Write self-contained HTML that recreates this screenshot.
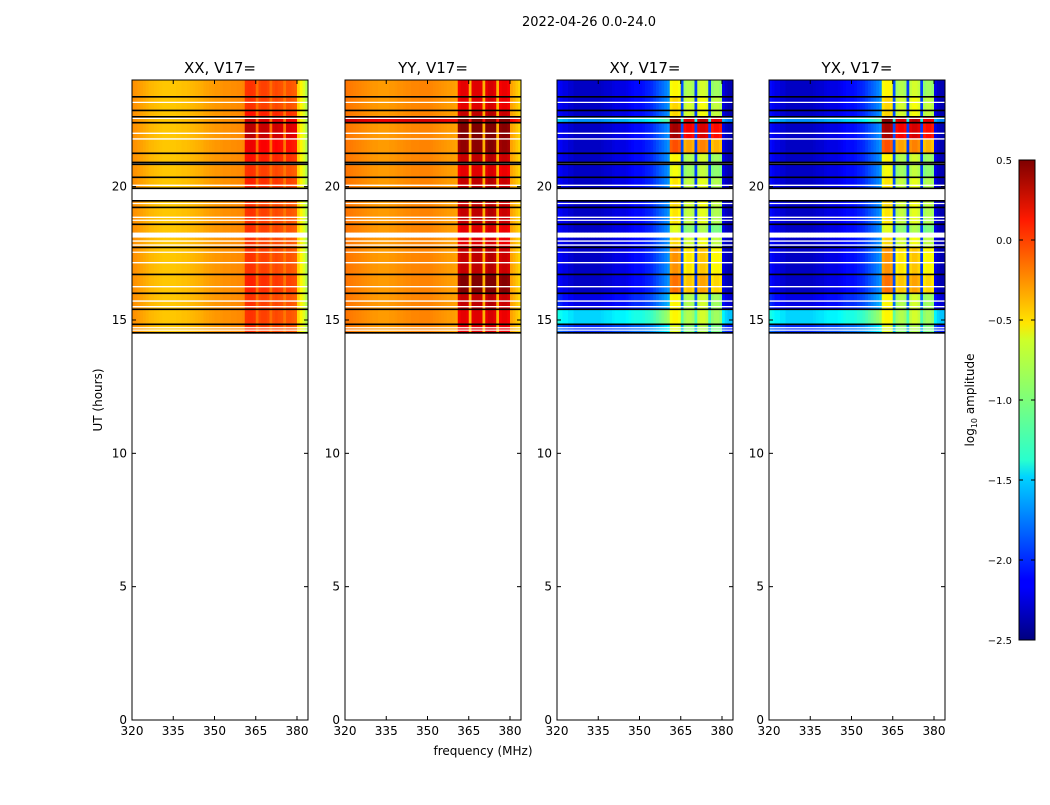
<!DOCTYPE html>
<html><head><meta charset="utf-8"><style>
body{margin:0;background:#fff;font-family:"Liberation Sans","DejaVu Sans",sans-serif}
svg text{font-family:"DejaVu Sans","Liberation Sans",sans-serif}
</style></head><body>
<svg id="fig" width="1050" height="800" xmlns="http://www.w3.org/2000/svg">
<rect width="1050" height="800" fill="#fff"/>
<text x="589" y="26" font-size="13" text-anchor="middle">2022-04-26 0.0-24.0</text>
<text transform="translate(102,400) rotate(-90)" font-size="12" text-anchor="middle">UT (hours)</text>
<text x="483" y="755" font-size="12" text-anchor="middle">frequency (MHz)</text>
<defs><linearGradient id="jet" x1="0" y1="1" x2="0" y2="0">
<stop offset="0" stop-color="#00007f"/><stop offset="0.11" stop-color="#0000ff"/><stop offset="0.125" stop-color="#0000ff"/>
<stop offset="0.34" stop-color="#00d4ff"/><stop offset="0.375" stop-color="#29ffce"/><stop offset="0.5" stop-color="#7dff7a"/>
<stop offset="0.625" stop-color="#ceff29"/><stop offset="0.66" stop-color="#ffe500"/><stop offset="0.875" stop-color="#ff1a00"/><stop offset="1" stop-color="#7f0000"/>
</linearGradient></defs>
<g id="panels"></g>
<g>
<rect x="1019" y="160" width="16" height="480" fill="url(#jet)" stroke="#000" stroke-width="1"/>
<g id="cbticks"></g>
<text transform="translate(974,400) rotate(-90)" font-size="12" text-anchor="middle">log<tspan font-size="8" dy="3">10</tspan><tspan dy="-3"> amplitude</tspan></text>
</g>
</svg>
<script>
const NS="http://www.w3.org/2000/svg";
const panelTitles=["XX, V17=","YY, V17=","XY, V17=","YX, V17="];
const xTicks=[320,335,350,365,380];
const yTicks=[0,5,10,15,20];
const cbTicks=[0.5,0.0,-0.5,-1.0,-1.5,-2.0,-2.5];
// frequency bins: 1 MHz each from 320 to 383
const freqBins=[320,321,322,323,324,325,326,327,328,329,330,331,332,333,334,335,336,337,338,339,340,341,342,343,344,345,346,347,348,349,350,351,352,353,354,355,356,357,358,359,360,361,362,363,364,365,366,367,368,369,370,371,372,373,374,375,376,377,378,379,380,381,382,383];
const peakBins=[0,0,0,0,0,0,0,0,0,0,0,0,0,0,0,0,0,0,0,0,0,0,0,0,0,0,0,0,0,0,0,0,0,0,0,0,0,0,0,0,0,1,1,1,1,0,1,1,1,1,0,1,1,1,1,0,1,1,1,1,0,0,0,0];
const profXX=[-0.3,-0.31,-0.33,-0.35,-0.37,-0.39,-0.41,-0.42,-0.43,-0.44,-0.45,-0.46,-0.46,-0.46,-0.46,-0.46,-0.45,-0.45,-0.44,-0.44,-0.43,-0.42,-0.41,-0.4,-0.39,-0.38,-0.36,-0.35,-0.34,-0.33,-0.32,-0.32,-0.31,-0.3,-0.3,-0.3,-0.29,-0.29,-0.28,-0.28,-0.27,-0.03,-0.02,-0.02,-0.03,-0.2,-0.08,-0.06,-0.06,-0.08,-0.2,-0.1,-0.08,-0.1,-0.12,-0.22,-0.12,-0.12,-0.14,-0.16,-0.5,-0.6,-0.72,-0.85];
const profYY=[-0.22,-0.23,-0.24,-0.25,-0.26,-0.27,-0.28,-0.29,-0.3,-0.31,-0.32,-0.32,-0.33,-0.33,-0.33,-0.33,-0.32,-0.32,-0.31,-0.3,-0.3,-0.29,-0.28,-0.28,-0.27,-0.27,-0.27,-0.26,-0.26,-0.26,-0.26,-0.27,-0.28,-0.29,-0.3,-0.31,-0.32,-0.33,-0.33,-0.34,-0.35,0.15,0.2,0.2,0.18,-0.4,0.2,0.22,0.22,0.2,-0.4,0.2,0.25,0.25,0.2,-0.4,0.15,0.18,0.18,0.15,-0.35,-0.4,-0.45,-0.5];
const profXY=[-2.1,-2.15,-2.2,-2.2,-2.25,-2.25,-2.3,-2.3,-2.3,-2.3,-2.3,-2.3,-2.3,-2.3,-2.3,-2.3,-2.28,-2.26,-2.25,-2.25,-2.22,-2.2,-2.2,-2.2,-2.2,-2.18,-2.15,-2.12,-2.1,-2.1,-2.1,-2.08,-2.05,-2.03,-2.0,-1.95,-1.9,-1.85,-1.8,-1.75,-1.7,-0.75,-0.7,-0.7,-0.75,-1.9,-1.0,-0.95,-0.95,-1.0,-1.95,-0.9,-0.85,-0.85,-0.9,-1.95,-1.05,-1.0,-1.0,-1.05,-2.2,-2.3,-2.35,-2.35];
const profYX=[-2.1,-2.15,-2.2,-2.2,-2.25,-2.25,-2.3,-2.3,-2.3,-2.3,-2.3,-2.3,-2.3,-2.3,-2.3,-2.3,-2.28,-2.26,-2.25,-2.25,-2.22,-2.2,-2.2,-2.2,-2.2,-2.18,-2.15,-2.12,-2.1,-2.1,-2.1,-2.08,-2.05,-2.03,-2.0,-1.95,-1.9,-1.85,-1.8,-1.75,-1.7,-0.75,-0.7,-0.7,-0.75,-1.9,-1.0,-0.95,-0.95,-1.0,-1.95,-0.9,-0.85,-0.85,-0.9,-1.95,-1.05,-1.0,-1.0,-1.05,-2.2,-2.3,-2.35,-2.35];
// time bands (hours)
const bandStart=[14.5,14.84,15.4,16.0,16.71,17.72,18.29,18.59,19.22,19.94,20.35,20.91,21.25,21.8,22.4,22.62,22.86,23.37];
const bandEnd  =[14.84,15.4,16.0,16.71,17.72,18.09,18.59,19.22,19.5,20.35,20.84,21.25,21.8,22.4,22.62,22.86,23.37,24.0];
const peakBoostXX=[0,0,0,0.05,0,0,0,0,0,0.05,0,0.1,0.2,0.35,0.3,0.1,0,0];
const peakBoostYY=[0,0,0.1,0.3,0.1,0,0,0.1,0.1,0.1,0,0.1,0.25,0.3,0.4,0.1,0,0];
const peakBoostX=[0,0.1,0.1,0.5,0.4,0.2,0,0.15,0.2,0.15,0.05,0.1,0.6,1.1,1.2,0.2,0.2,0.1];
const bgBoostXX=[0,0,0,0,0,0,0,0,0,0,0,0,0,0,0,0,0,0];
const bgBoostYY=[0,0,0,0,0,0,0,0,0,0,0,0,0,0,0.5,0,0,0];
const bgBoostX=[0.3,0.8,0.1,0,0,0,0,0,0,0,0,0,0,0,0.6,0,0,0];
// flag lines (hours)
const blackLines=[23.37,22.86,22.62,22.4,21.25,20.91,20.84,20.35,19.94,19.47,19.22,18.59,17.72,16.71,16.0,15.4,14.84,14.52];
const whiteLines=[23.16,22.56,22.0,21.79,20.05,19.37,18.85,18.74,17.96,17.81,17.54,17.15,16.25,15.71,15.5,14.71,14.62];

const profiles=[profXX,profYY,profXY,profYX];
const peakBoosts=[peakBoostXX,peakBoostYY,peakBoostX,peakBoostX];
const bgBoosts=[bgBoostXX,bgBoostYY,bgBoostX,bgBoostX];
const panelLeft=[132,345,557,769], PW=176, PT=80, PB=720;

function jet(v){let t=(v+2.5)/3;t=Math.max(0,Math.min(1,t));
 const r=Math.max(0,Math.min(1,1.5-Math.abs(4*t-3))),g=Math.max(0,Math.min(1,1.5-Math.abs(4*t-2))),b=Math.max(0,Math.min(1,1.5-Math.abs(4*t-1)));
 return `rgb(${Math.round(r*255)},${Math.round(g*255)},${Math.round(b*255)})`;}
function mk(tag,attrs,parent){const e=document.createElementNS(NS,tag);for(const k in attrs)e.setAttribute(k,attrs[k]);parent.appendChild(e);return e;}
const root=document.getElementById('panels');
for(let p=0;p<4;p++){
 const L=panelLeft[p];
 const xs=f=>L+(f-320)/64*PW, ys=h=>PB-h/24*(PB-PT);
 const g=mk('g',{},root);
 
 
 const hm=mk('g',{},g);
 
 
 for(let b=0;b<bandStart.length;b++){
  for(let i=0;i<freqBins.length;i++){
   const v=profiles[p][i]+(peakBins[i]?peakBoosts[p][b]:bgBoosts[p][b]);
   const x0=xs(freqBins[i]),x1=xs(freqBins[i]+1),y0=ys(bandEnd[b]),y1=ys(bandStart[b]);
   const r=mk('rect',{x:x0,y:y0,width:x1-x0+0.3,height:y1-y0+0.3,fill:jet(v)},hm);
   
   
  }
 }
 blackLines.forEach(h=>{const l=mk('line',{x1:L,x2:L+PW,y1:ys(h),y2:ys(h),stroke:'#000','stroke-width':1.6},g);
  });
 whiteLines.forEach(h=>{const l=mk('line',{x1:L,x2:L+PW,y1:ys(h),y2:ys(h),stroke:'#fff','stroke-width':1.3},g);
  });
 const fr=mk('rect',{x:L,y:PT,width:PW,height:PB-PT,fill:'none',stroke:'#000','stroke-width':1},g);
 
 xTicks.forEach(t=>{const x=xs(t);
  mk('line',{x1:x,x2:x,y1:PB,y2:PB-4,stroke:'#000'},g);mk('line',{x1:x,x2:x,y1:PT,y2:PT+4,stroke:'#000'},g);
  const tx=mk('text',{x:x,y:PB+15,'font-size':12,'text-anchor':'middle'},g);tx.textContent=t;
  });
 yTicks.forEach(t=>{const y=ys(t);
  mk('line',{x1:L,x2:L+4,y1:y,y2:y,stroke:'#000'},g);mk('line',{x1:L+PW,x2:L+PW-4,y1:y,y2:y,stroke:'#000'},g);
  const tx=mk('text',{x:L-5,y:y+4,'font-size':12,'text-anchor':'end'},g);tx.textContent=t;
  });
 const tt=mk('text',{x:L+PW/2,y:73,'font-size':15,'text-anchor':'middle'},g);tt.textContent=panelTitles[p];
 
}
const cb=document.getElementById('cbticks');
cbTicks.forEach(t=>{const y=160+(0.5-t)/3*480;
 mk('line',{x1:1019,x2:1023,y1:y,y2:y,stroke:'#000'},cb);mk('line',{x1:1035,x2:1031,y1:y,y2:y,stroke:'#000'},cb);
 const tx=mk('text',{x:1012,y:y+4,'font-size':10,'text-anchor':'end'},cb);tx.textContent=t.toFixed(1).replace('-','\u2212');
 });
</script>
</body></html>
